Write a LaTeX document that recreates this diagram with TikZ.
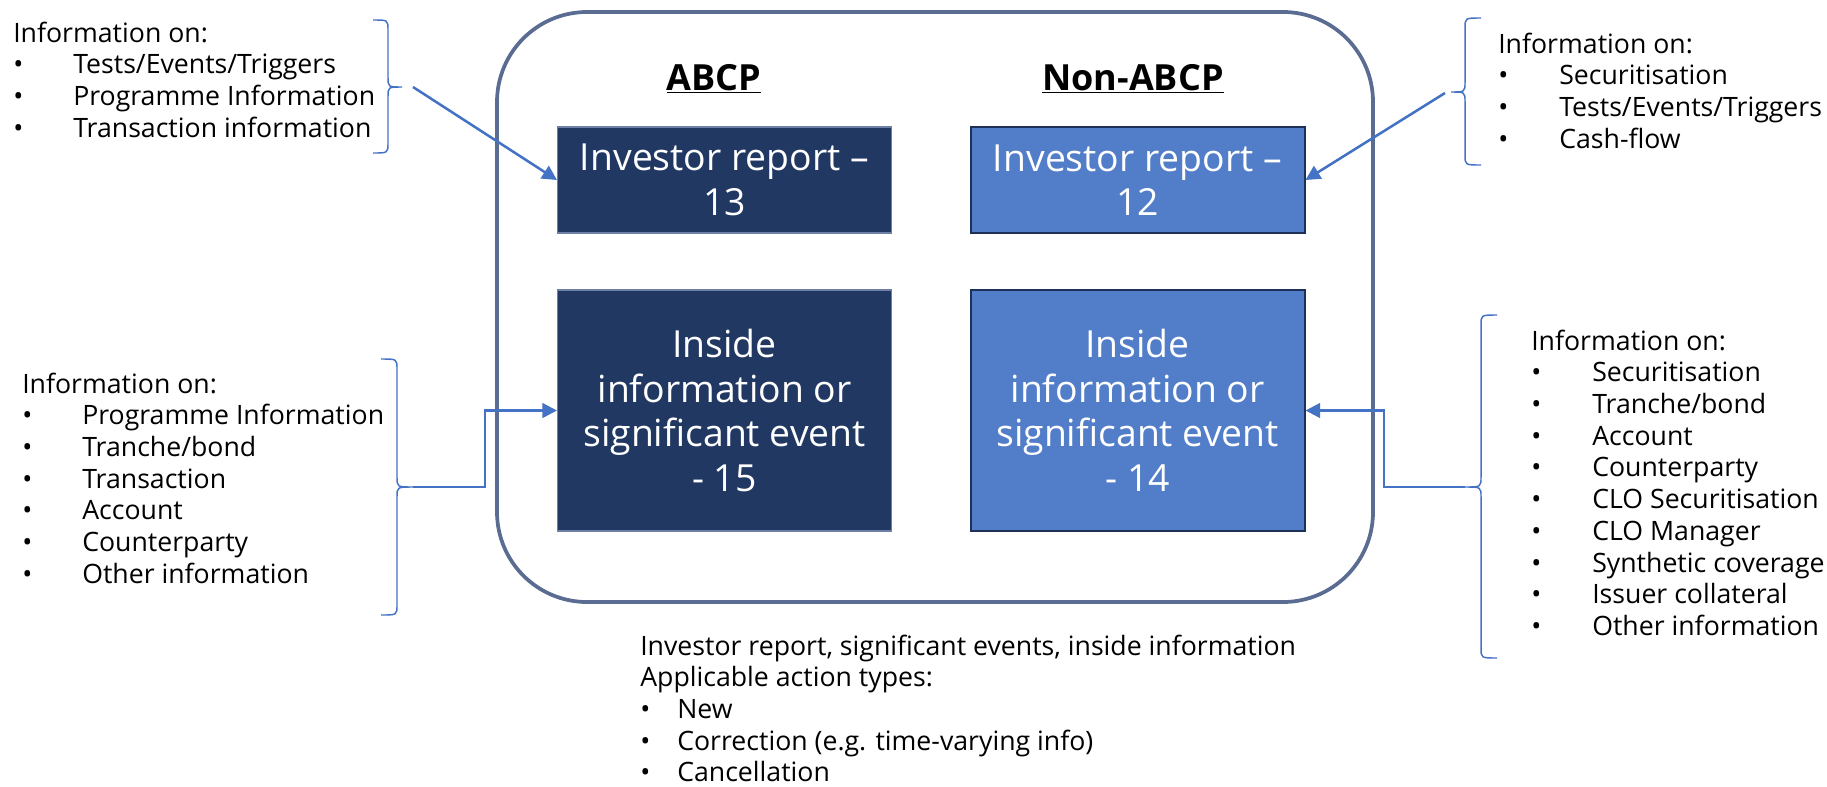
\documentclass[tikz,border=0pt]{standalone}
\usepackage{fontspec}
\setmainfont{Open Sans}
\usetikzlibrary{arrows.meta}
\definecolor{frameC}{RGB}{90,108,145}
\definecolor{braceC}{RGB}{68,114,196}
\definecolor{arrC}{RGB}{68,114,196}
\definecolor{darkC}{RGB}{33,56,98}
\definecolor{lightC}{RGB}{82,125,200}
\definecolor{darkBorder}{RGB}{110,128,165}
\definecolor{lightBorder}{RGB}{28,48,88}
\newcommand{\sidefont}{\fontsize{20}{23.8}\selectfont}
\newcommand{\bl}[2]{\hbox{\makebox[#1][l]{\textbullet}#2}}
\tikzset{
  boxbase/.style={rectangle, text=white, align=center, font=\fontsize{28}{33.4}\selectfont, minimum width=250.5pt, inner sep=0pt},
  darkbox/.style={boxbase, fill=darkC, draw=darkBorder, line width=0.8pt},
  lightbox/.style={boxbase, fill=lightC, draw=lightBorder, line width=1.5pt},
  smallh/.style={minimum height=79.5pt},
  bigh/.style={minimum height=180.75pt},
  hdr/.style={font=\fontsize{27}{32}\selectfont\bfseries, anchor=base, inner sep=0pt},
  sidetext/.style={anchor=base west, inner sep=0pt, font=\sidefont},
  arr/.style={draw=arrC, line width=1.9pt, -{Triangle[length=11pt,width=11pt]}},
  bracestyle/.style={draw=braceC, line width=1.1pt},
  outerframe/.style={rectangle, draw=frameC, line width=2.8pt, rounded corners=67.5pt, minimum width=657pt, minimum height=442.5pt, inner sep=0pt}
}
\begin{document}
\begin{tikzpicture}[x=0.75pt,y=-0.75pt]
\useasboundingbox (0,0) rectangle (1827,786);
% outer container
\node[outerframe] (outer) at (935,307) {};
% headers
\node[hdr] (hA) at (714,90) {\underline{ABCP}};
\node[hdr] (hN) at (1133,90) {\underline{Non-ABCP}};
% boxes
\node[darkbox, smallh] (IR13) at (724.5,180) {Investor report –\\13};
\node[lightbox, smallh] (IR12) at (1137.5,180) {Investor report –\\12};
\node[darkbox, bigh] (IS15) at (724.5,410.5) {Inside\\information or\\significant event\\- 15};
\node[lightbox, bigh] (IS14) at (1137.5,410.5) {Inside\\information or\\significant event\\- 14};
% side texts
\node[sidetext] (tlText) at (13,42) {\vtop{\hbox{Information on:}\bl{45pt}{Tests/Events/Triggers}\bl{45pt}{Programme Information}\bl{45pt}{Transaction information}}};
\node[sidetext] (trText) at (1498,53) {\vtop{\hbox{Information on:}\bl{45.75pt}{Securitisation}\bl{45.75pt}{Tests/Events/Triggers}\bl{45.75pt}{Cash-flow}}};
\node[sidetext] (mlText) at (22,393) {\vtop{\hbox{Information on:}\bl{45pt}{Programme Information}\bl{45pt}{Tranche/bond}\bl{45pt}{Transaction}\bl{45pt}{Account}\bl{45pt}{Counterparty}\bl{45pt}{Other information}}};
\node[sidetext] (mrText) at (1531,350) {\vtop{\hbox{Information on:}\bl{45.75pt}{Securitisation}\bl{45.75pt}{Tranche/bond}\bl{45.75pt}{Account}\bl{45.75pt}{Counterparty}\bl{45.75pt}{CLO Securitisation}\bl{45.75pt}{CLO Manager}\bl{45.75pt}{Synthetic coverage}\bl{45.75pt}{Issuer collateral}\bl{45.75pt}{Other information}}};
\node[sidetext] (btText) at (640,655) {\vtop{\hbox{Investor report, significant events, inside information}\hbox{Applicable action types:}\bl{27.75pt}{New}\bl{27.75pt}{Correction (e.g. time-varying info)}\bl{27.75pt}{Cancellation}}};
% braces
\draw[bracestyle] (373,20) .. controls (388,20) .. (388,30) -- (388,77) .. controls (388,87) .. (402,87) .. controls (388,87) .. (388,97) -- (388,143) .. controls (388,153) .. (373,153);
\draw[bracestyle] (1481,18) .. controls (1465,18) .. (1465,28) -- (1465,82) .. controls (1465,92) .. (1451,92) .. controls (1465,92) .. (1465,102) -- (1465,155) .. controls (1465,165) .. (1481,165);
\draw[bracestyle] (381,359) .. controls (397,359) .. (397,369) -- (397,477) .. controls (397,487) .. (413,487) .. controls (397,487) .. (397,497) -- (397,605) .. controls (397,615) .. (381,615);
\draw[bracestyle] (1497,315) .. controls (1481,315) .. (1481,325) -- (1481,477) .. controls (1481,487) .. (1465,487) .. controls (1481,487) .. (1481,497) -- (1481,648) .. controls (1481,658) .. (1497,658);
% connector anchors
\coordinate (tlStart) at (413,87);
\coordinate (trStart) at (1445,93);
\coordinate (mlStart) at (413,487);
\coordinate (mlBend) at (485,487);
\coordinate (mrStart) at (1465,487);
\coordinate (mrBend) at (1384,487);
% connectors
\draw[arr] (tlStart) -- (IR13.west);
\draw[arr] (trStart) -- (IR12.east);
\draw[arr] (mlStart) -- (mlBend) |- (IS15.west);
\draw[arr] (mrStart) -- (mrBend) |- (IS14.east);
\end{tikzpicture}
\end{document}
